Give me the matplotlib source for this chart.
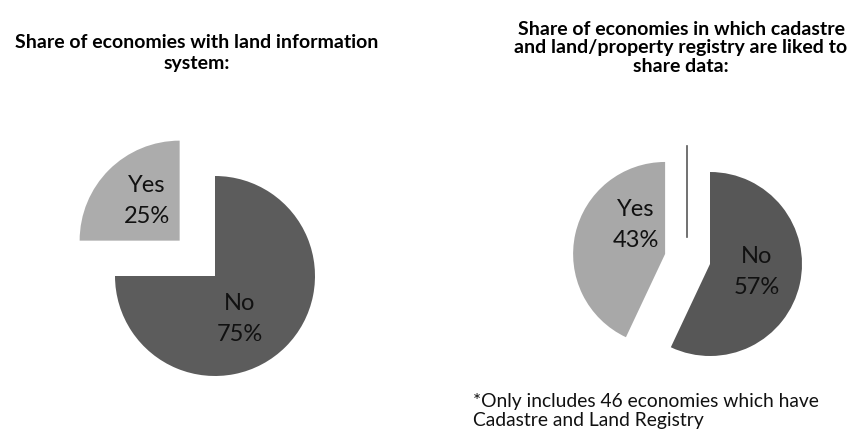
import matplotlib.pyplot as plt

plt.rcParams['font.family'] = ['Lato', 'DejaVu Sans']

W, H = 859, 435

# pie data
left_labels = ["No", "Yes"]
left_values = [75, 25]
right_labels = ["No", "Yes"]
right_values = [57, 43]

left_title = "Share of economies with land information\nsystem:"
right_title = ("Share of economies in which cadastre\n"
               "and land/property registry are liked to\nshare data:")
footnote = "*Only includes 46 economies which have\nCadastre and Land Registry"


def py(y):
    # pixel row (top = 0) -> axes y
    return H - y


fig = plt.figure(figsize=(W / 100, H / 100), dpi=100)
ax = fig.add_axes([0, 0, 1, 1])

# explode is in data units here (axes are in pixels), so give it as radius * fraction
r_left, r_right = 100, 92
ax.pie(left_values, colors=["#5c5c5c", "#acacac"], explode=[0, 0.5 * r_left],
       startangle=90, counterclock=False, center=(215, py(277)), radius=r_left,
       wedgeprops=dict(linewidth=0))
ax.pie(right_values, colors=["#575757", "#a8a8a8"], explode=[0, 0.5 * r_right],
       startangle=90, counterclock=False, center=(710, py(265)), radius=r_right,
       wedgeprops=dict(linewidth=0))

# slice labels
lab_kw = dict(ha="center", va="center", fontsize=17, color="#111111", linespacing=1.55)
left_pos = [(240, 319), (147, 201)]
right_pos = [(757, 272), (636, 225)]
for name, val, (x, y) in zip(left_labels, left_values, left_pos):
    ax.text(x, py(y), f"{name}\n{val}%", **lab_kw)
for name, val, (x, y) in zip(right_labels, right_values, right_pos):
    ax.text(x, py(y), f"{name}\n{val}%", **lab_kw)

# stray leader line
ax.plot([687, 687], [py(147), py(238)], color="#595959", lw=1.2)

ax.text(197, py(53), left_title, ha="center", va="center", fontsize=14,
        fontweight="bold", linespacing=1.3)
ax.text(681, py(48), right_title, ha="center", va="center", fontsize=14,
        fontweight="bold", linespacing=1.1)
ax.text(473, py(411), footnote, ha="left", va="center", fontsize=13.9,
        color="#111111", linespacing=1.15)

ax.set_xlim(0, W)
ax.set_ylim(0, H)
ax.set_aspect("auto")
ax.axis("off")

fig.savefig("out.png", dpi=100)
